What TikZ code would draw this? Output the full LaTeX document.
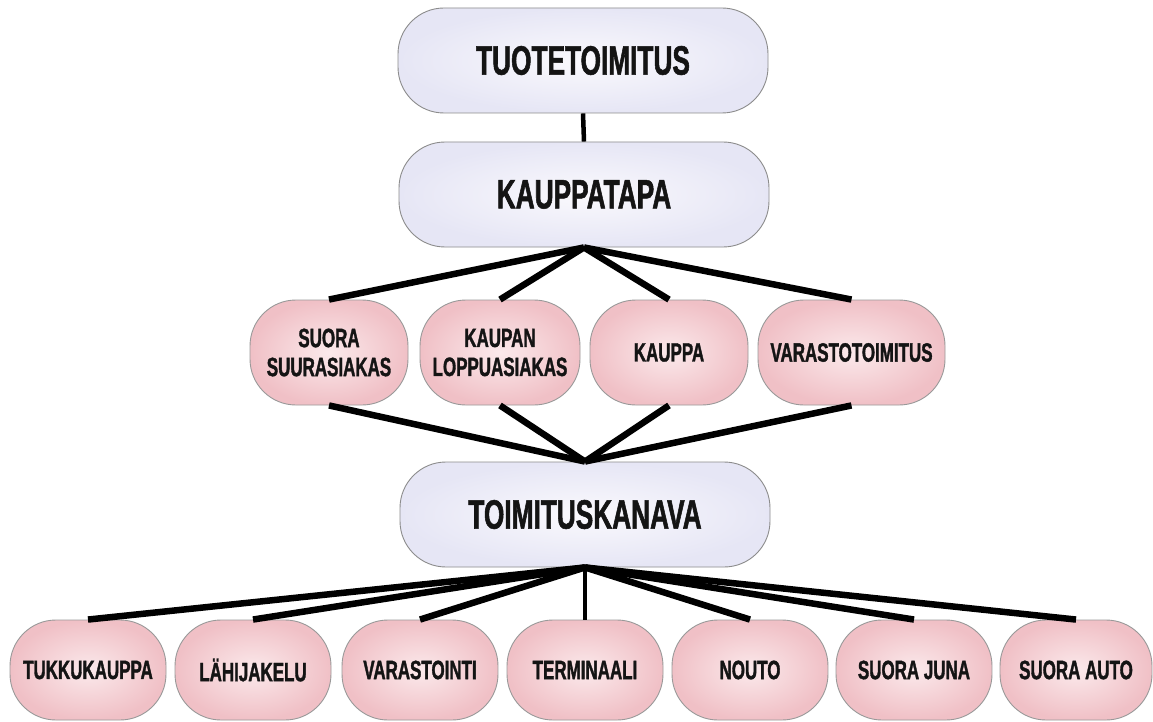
\documentclass[tikz,border=0pt]{standalone}
\usepackage{fontspec}
\setmainfont{Liberation Sans}[FakeStretch=0.64, BoldFeatures={FakeBold=1.3}]
\begin{document}
\begin{tikzpicture}[x=1pt,y=-1pt,
  mainbox/.style={draw=black!45, line width=0.9pt, rounded corners=46pt,
    inner color={rgb,255:red,250;green,249;blue,253},
    outer color={rgb,255:red,230;green,230;blue,245},
    minimum width=370pt, minimum height=105pt,
    font=\fontsize{41}{46}\selectfont\bfseries, text=black!92},
  subbox/.style={draw=black!40, line width=0.9pt, rounded corners=46pt,
    inner color={rgb,255:red,251;green,233;blue,235},
    outer color={rgb,255:red,240;green,192;blue,198},
    minimum height=105pt, align=center,
    font=\fontsize{26.5}{29}\selectfont\bfseries, text=black!92},
  leafbox/.style={subbox, minimum width=156pt, minimum height=100pt},
  link/.style={line width=6.5pt, black},
  thinlink/.style={line width=4.5pt, black}]
\useasboundingbox (0,0) rectangle (1153,722);
\fill[white] (0,0) rectangle (1153,722);

% upper hierarchy
\node[mainbox] (tuote) at (583,60.5) {TUOTETOIMITUS};
\node[mainbox] (kauppa) at (584,194.5) {KAUPPATAPA};
\node[mainbox] (kanava) at (585,514.5) {TOIMITUSKANAVA};

% sales modes
\node[subbox, minimum width=158pt] (suora) at (329,352.5) {SUORA\\SUURASIAKAS};
\node[subbox, minimum width=160pt] (kaupan) at (500,352.5) {KAUPAN\\LOPPUASIAKAS};
\node[subbox, minimum width=158pt] (kp) at (669,352.5) {KAUPPA};
\node[subbox, minimum width=187pt] (varasto) at (851.5,352.5) {VARASTOTOIMITUS};

% delivery channels
\node[leafbox] (tukku) at (88,670) {TUKKUKAUPPA};
\node[leafbox] (lahi) at (253,670) {LÄHIJAKELU};
\node[leafbox] (vars) at (420,670) {VARASTOINTI};
\node[leafbox] (term) at (585,670) {TERMINAALI};
\node[leafbox] (nouto) at (750,670) {NOUTO};
\node[leafbox] (juna) at (914,670) {SUORA JUNA};
\node[leafbox, minimum width=152pt] (auto) at (1076,670) {SUORA AUTO};

% connectors
\draw[thinlink] (tuote.south) -- (kauppa.north);
\foreach \n in {suora,kaupan,kp,varasto}{
  \draw[link] (kauppa.south) -- (\n.north);
  \draw[link] (\n.south) -- (kanava.north);
}
\foreach \n in {tukku,lahi,vars,nouto,juna,auto}{
  \draw[link] (kanava.south) -- (\n.north);
}
\draw[thinlink] (kanava.south) -- (term.north);
\end{tikzpicture}
\end{document}
